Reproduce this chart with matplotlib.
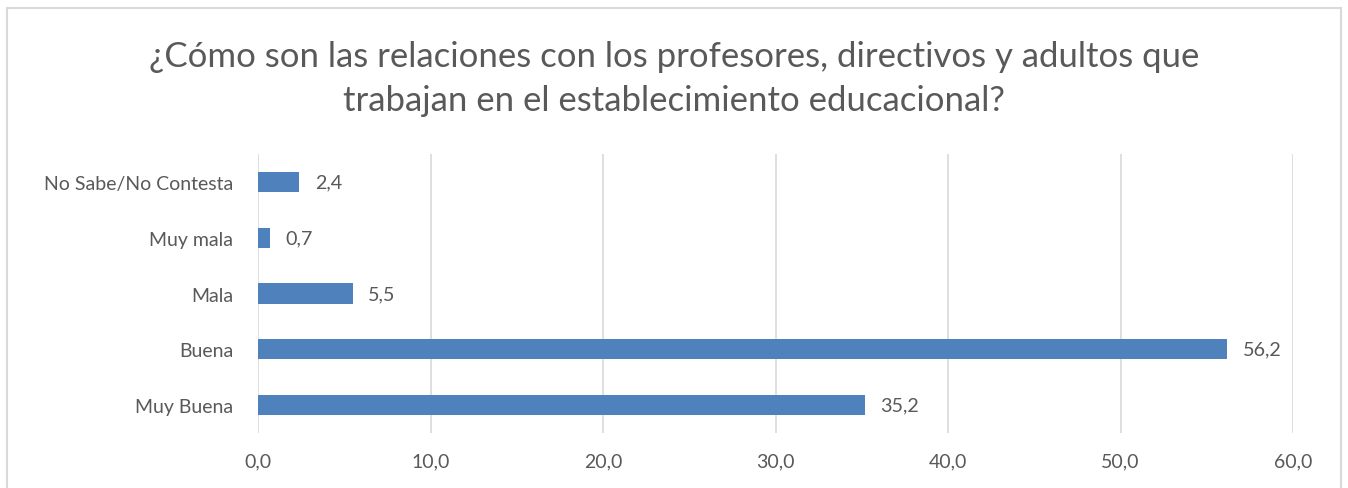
import matplotlib.pyplot as plt
from matplotlib.patches import Rectangle

categories = ["Muy Buena", "Buena", "Mala", "Muy mala", "No Sabe/No Contesta"]
values = [35.2, 56.2, 5.5, 0.7, 2.4]
ticks = [0, 10, 20, 30, 40, 50, 60]

title = ("¿Cómo son las relaciones con los profesores, directivos y adultos que\n"
         "trabajan en el establecimiento educacional?")

text_color = "#595959"
bar_color = "#4F81BD"
grid_color = "#D9D9D9"

# Lato is close to Calibri in shape
plt.rcParams["font.family"] = ["Lato", "DejaVu Sans"]

fig = plt.figure(figsize=(13.48, 4.89), dpi=100)
ax = fig.add_axes([0.1914, 0.1125, 0.7678, 0.5705])

# outer chart border
fig.patches.append(Rectangle((7 / 1348, -0.1), 1334 / 1348, 1 - 9 / 489 + 0.1,
                             transform=fig.transFigure, fill=False,
                             edgecolor=grid_color, linewidth=1.5))

bars = ax.barh(range(len(categories)), values, height=0.36, color=bar_color, zorder=3)
ax.bar_label(bars, labels=[f"{v:.1f}".replace(".", ",") for v in values],
             padding=11, fontsize=14.2, color=text_color)

ax.set_xlim(0, 60)
ax.set_ylim(-0.5, len(categories) - 0.5)
ax.set_xticks(ticks)
ax.set_xticklabels([f"{t:.1f}".replace(".", ",") for t in ticks])
ax.set_yticks(range(len(categories)))
ax.set_yticklabels(categories)
ax.tick_params(axis="both", length=0, labelsize=14, labelcolor=text_color)
ax.tick_params(axis="x", pad=14)
ax.tick_params(axis="y", pad=18)

ax.grid(axis="x", color=grid_color, linewidth=1.2, zorder=0)
for s in ax.spines.values():
    s.set_visible(False)

fig.text(0.5, 0.838, title, ha="center", va="center", fontsize=25,
         color=text_color, linespacing=1.46)

fig.savefig("out.png", dpi=100)
